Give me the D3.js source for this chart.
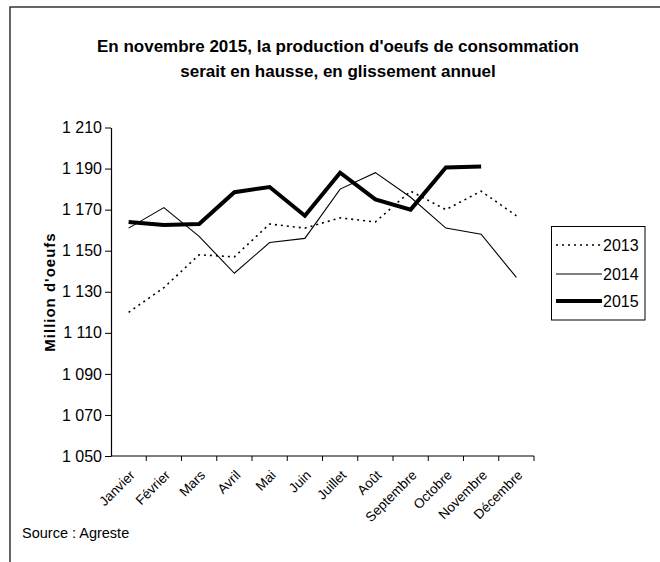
<!DOCTYPE html>
<html>
<head>
<meta charset="utf-8">
<script src="https://cdn.jsdelivr.net/npm/d3@7"></script>
<style>
  body { margin: 0; background: #fff; }
  svg { display: block; font-family: "Liberation Sans", Arial, sans-serif; }
</style>
</head>
<body>
<div id="chart"></div>
<script>
const months = ["Janvier", "Février", "Mars", "Avril", "Mai", "Juin", "Juillet", "Août", "Septembre", "Octobre", "Novembre", "Décembre"];
const values2013 = [1120, 1132, 1148, 1147, 1163, 1161, 1166, 1164, 1179, 1170, 1179, 1167];
const values2014 = [1161, 1171, 1157, 1139, 1154, 1156, 1180, 1188, 1176, 1161, 1158, 1137];
const values2015 = [1164, 1162.5, 1163, 1178.5, 1181, 1167, 1188, 1175, 1170, 1190.5, 1191];
const yTicks = [1050, 1070, 1090, 1110, 1130, 1150, 1170, 1190, 1210];

const series = [
  {name: "2013", values: values2013, width: 1.6, dash: "2,4"},
  {name: "2014", values: values2014, width: 1.1, dash: null},
  {name: "2015", values: values2015, width: 4, dash: null}
];

const width = 660, height = 562;
const plot = {left: 111, right: 534, top: 127.5, bottom: 456};

const svg = d3.select("#chart")
  .append("svg")
  .attr("width", width)
  .attr("height", height);

// outer frame (open on right and bottom)
svg.append("rect")
  .attr("x", 10).attr("y", 7)
  .attr("width", 700).attr("height", 600)
  .attr("fill", "none")
  .attr("stroke", "#333")
  .attr("stroke-width", 1.5);

// title
svg.append("text")
  .attr("x", 338).attr("y", 52)
  .attr("text-anchor", "middle")
  .style("font-size", "17px").style("font-weight", "bold")
  .text("En novembre 2015, la production d'oeufs de consommation");
svg.append("text")
  .attr("x", 338).attr("y", 77)
  .attr("text-anchor", "middle")
  .style("font-size", "17px").style("font-weight", "bold")
  .text("serait en hausse, en glissement annuel");

const x = d3.scaleBand().domain(months).range([plot.left, plot.right]);
const y = d3.scaleLinear().domain([1050, 1210]).range([plot.bottom, plot.top]);

// y axis
const yAxis = svg.append("g")
  .attr("transform", `translate(${plot.left},0)`)
  .call(d3.axisLeft(y).tickValues(yTicks).tickSize(6).tickSizeOuter(0)
    .tickFormat(d => d3.format(",")(d).replace(",", " ")));
yAxis.select(".domain").attr("stroke", "#000").attr("stroke-width", 1.2);
yAxis.selectAll(".tick line").attr("stroke", "#000");
yAxis.selectAll(".tick text")
  .attr("x", -9)
  .attr("fill", "#000")
  .style("font-size", "16px")
  .style("font-family", "'Liberation Sans', Arial, sans-serif");

// x axis: ticks at category boundaries
const xAxis = svg.append("g")
  .attr("transform", `translate(0,${plot.bottom})`);
xAxis.append("line")
  .attr("x1", plot.left).attr("x2", plot.right)
  .attr("stroke", "#000").attr("stroke-width", 1.2);
xAxis.selectAll("line.tk")
  .data(months)
  .join("line")
  .attr("class", "tk")
  .attr("x1", d => x(d) + x.bandwidth()).attr("x2", d => x(d) + x.bandwidth())
  .attr("y1", 0).attr("y2", 5)
  .attr("stroke", "#000");
xAxis.selectAll("text")
  .data(months)
  .join("text")
  .attr("transform", d => `translate(${x(d) + x.bandwidth() / 2 + 7},${20}) rotate(-45)`)
  .attr("text-anchor", "end")
  .style("font-size", "13.5px")
  .text(d => d);

// lines
const line = d3.line()
  .x((d, i) => x(months[i]) + x.bandwidth() / 2)
  .y(d => y(d));

svg.selectAll("path.serie")
  .data(series)
  .join("path")
  .attr("class", "serie")
  .attr("d", d => line(d.values))
  .attr("fill", "none")
  .attr("stroke", "#000")
  .attr("stroke-width", d => d.width)
  .attr("stroke-dasharray", d => d.dash)
  .attr("stroke-linejoin", "miter");

// y axis label
svg.append("text")
  .attr("transform", "translate(55,292) rotate(-90)")
  .attr("text-anchor", "middle")
  .style("font-size", "15px").style("font-weight", "bold")
  .style("letter-spacing", "1px")
  .text("Million d'oeufs");

// legend
const legend = svg.append("g");
legend.append("rect")
  .attr("x", 551.5).attr("y", 226.5)
  .attr("width", 93.5).attr("height", 93.5)
  .attr("fill", "#fff").attr("stroke", "#000");
const legendY = [245, 274, 301];
series.forEach((s, i) => {
  legend.append("line")
    .attr("x1", 556).attr("x2", 602)
    .attr("y1", legendY[i]).attr("y2", legendY[i])
    .attr("stroke", "#000")
    .attr("stroke-width", s.width)
    .attr("stroke-dasharray", s.dash);
  legend.append("text")
    .attr("x", 603).attr("y", legendY[i] + 6)
    .style("font-size", "16px")
    .text(s.name);
});

// source
svg.append("text")
  .attr("x", 22).attr("y", 538)
  .style("font-size", "14.5px")
  .text("Source : Agreste");
</script>
</body>
</html>
